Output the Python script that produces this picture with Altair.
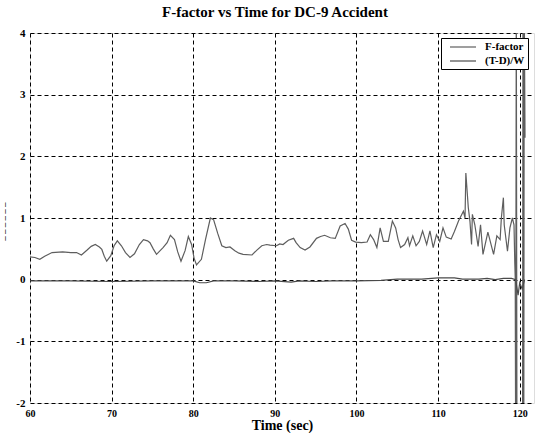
import altair as alt
import pandas as pd

# F-factor series (time in sec, value)
f_time = [60.0, 60.6, 61.2, 61.8, 62.7, 64.0, 65.0, 65.7, 66.3, 67.0, 67.5, 68.0, 68.5, 68.8, 69.1,
          69.4, 69.9, 70.3, 70.7, 71.2, 71.7, 72.25, 72.8, 73.4, 73.9, 74.4, 74.7, 75.1, 75.5, 76.3,
          76.8, 77.2, 77.7, 78.1, 78.5, 79.0, 79.4, 79.8, 80.1, 80.4, 81.0, 81.5, 82.1, 82.5, 83.0,
          83.5, 84.0, 84.5, 85.1, 85.6, 86.1, 87.2, 87.8, 88.4, 89.0, 89.4, 90.2, 90.6, 91.0, 91.65,
          92.3, 92.6, 93.1, 93.7, 94.3, 95.1, 95.6, 96.1, 96.8, 97.4, 98.0, 98.6, 99.0, 99.4, 99.9,
          100.6, 101.3, 101.7, 102.1, 102.5, 102.9, 103.3, 103.9, 104.4, 104.8, 105.1, 105.4, 105.9,
          106.3, 106.5, 106.9, 107.3, 107.7, 108.1, 108.6, 109.0, 109.4, 109.8, 110.2, 110.6, 111.0,
          111.6, 112.0, 112.5, 113.1, 113.3, 113.4, 113.7, 113.9, 114.1, 114.2, 114.5, 114.9, 115.2,
          115.5, 116.1, 116.8, 117.2, 117.6, 117.75, 118.0, 118.1, 118.5, 118.8, 119.1, 119.3, 119.4,
          119.45, 119.5, 119.58, 119.66, 120.35, 120.4, 120.5, 120.55, 120.65]
f_value = [0.37, 0.36, 0.33, 0.38, 0.44, 0.45, 0.44, 0.44, 0.40, 0.48, 0.54, 0.57, 0.53, 0.49, 0.38,
           0.30, 0.39, 0.55, 0.63, 0.55, 0.44, 0.36, 0.42, 0.57, 0.65, 0.63, 0.60, 0.50, 0.41, 0.52,
           0.60, 0.72, 0.65, 0.45, 0.30, 0.47, 0.70, 0.57, 0.35, 0.24, 0.33, 0.65, 1.00, 0.97, 0.75,
           0.55, 0.52, 0.53, 0.47, 0.43, 0.41, 0.40, 0.48, 0.55, 0.57, 0.56, 0.55, 0.58, 0.57, 0.64,
           0.67, 0.60, 0.52, 0.48, 0.53, 0.67, 0.70, 0.72, 0.68, 0.67, 0.87, 0.91, 0.82, 0.64, 0.61,
           0.60, 0.61, 0.73, 0.65, 0.52, 0.84, 0.62, 0.62, 0.95, 0.84, 0.65, 0.52, 0.57,
           0.68, 0.55, 0.71, 0.55, 0.62, 0.79, 0.57, 0.79, 0.52, 0.73, 0.62, 0.84, 0.69,
           0.66, 0.78, 0.95, 1.11, 1.00, 1.73, 1.17, 0.95, 0.57, 1.06, 0.89, 0.54, 0.89,
           0.41, 0.77, 0.41, 0.71, 0.65, 1.00, 1.33, 0.89, 0.46, 0.84, 1.00, 0.89, 0.25,
           0.03, -2.6, 4.6, -2.6, -2.6, 4.6, -2.6, 4.6, 2.3]

# (T-D)/W series
td_time = [60, 65, 70, 75, 80, 80.8, 81.6, 82.5, 85, 88, 90, 92, 93, 95, 97, 100, 103, 105, 108,
           110, 112, 113, 115, 116, 117, 118, 119, 119.5, 119.8, 120.0, 120.3, 120.6]
td_value = [-0.02, -0.02, -0.03, -0.02, -0.02, -0.05, -0.05, -0.02, -0.02, -0.03, -0.02, -0.04,
            -0.02, -0.03, -0.02, -0.02, -0.01, 0.01, 0.01, 0.03, 0.03, 0.01, 0.01, 0.02, 0.0, 0.02,
            0.02, 0.0, -0.25, -0.05, -0.15, 0.0]

series_names = ["F-factor", "(T-D)/W"]
x_ticks = [60, 70, 80, 90, 100, 110, 120]
y_ticks = [-2, -1, 0, 1, 2, 3, 4]

df = pd.concat([
    pd.DataFrame({"time": f_time, "value": f_value, "series": series_names[0], "idx": range(len(f_time))}),
    pd.DataFrame({"time": td_time, "value": td_value, "series": series_names[1], "idx": range(len(td_time))}),
])

FONT = "Liberation Serif"

chart = alt.Chart(df).mark_line(clip=True, strokeWidth=1.2).encode(
    x=alt.X("time:Q", scale=alt.Scale(domain=[60, 121.75], nice=False, zero=False),
            axis=alt.Axis(values=x_ticks, title="Time (sec)", grid=True, gridDash=[4, 3],
                          gridColor="black", gridOpacity=1, gridWidth=1, ticks=False, domain=False,
                          labelFont=FONT, labelFontWeight="bold", labelFontSize=10, labelColor="black",
                          labelPadding=5, labelFlush=False,
                          titleFont=FONT, titleFontWeight="bold", titleFontSize=14, titleColor="black",
                          titlePadding=0)),
    y=alt.Y("value:Q", scale=alt.Scale(domain=[-2, 4], nice=False, zero=False),
            axis=alt.Axis(values=y_ticks, title="–  –  –  –  –    –", grid=True, gridDash=[4, 3],
                          gridColor="black", gridOpacity=1, gridWidth=1, ticks=False, domain=False,
                          labelFont=FONT, labelFontWeight="bold", labelFontSize=11, labelColor="black",
                          labelPadding=5, labelFlush=False,
                          labelExpr="replace(datum.label, '\u2212', '-')",
                          titleFont=FONT, titleFontSize=9, titleFontWeight="bold", titleColor="black",
                          titleX=-22, titleY=188)),
    color=alt.Color("series:N", scale=alt.Scale(domain=series_names, range=["#5e5e5e", "#4a4a4a"]),
                    legend=alt.Legend(title=None, orient="none", legendX=411, legendY=5,
                                      symbolType="M-2.6,0H2.6", symbolSize=100, symbolStrokeWidth=1.2,
                                      symbolOffset=13,
                                      labelFont=FONT, labelFontWeight="bold", labelFontSize=11,
                                      labelColor="black", fillColor="white", strokeColor="black",
                                      padding=3, rowPadding=3, labelOffset=16)),
    order="idx:Q",
    detail="series:N",
).properties(
    width=504, height=370,
    title=alt.TitleParams("F-factor vs Time for DC-9 Accident", font=FONT, fontSize=15,
                          fontWeight="bold", color="black", offset=7, dx=-7),
    autosize=alt.AutoSizeParams(type="none"),
    padding={"left": 30, "top": 33, "right": 1, "bottom": 30},
).configure_view(
    stroke="#555555", strokeWidth=1.5
).configure(background="white")

chart.save("out.html", embed_options={"renderer": "svg", "actions": False})
